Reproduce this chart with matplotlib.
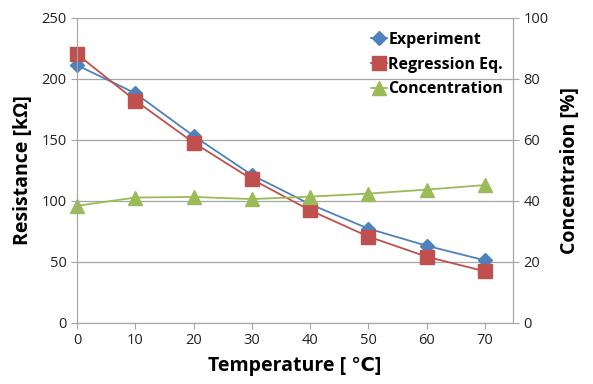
import numpy as np
import matplotlib
matplotlib.use("Agg")
import matplotlib.pyplot as plt

plt.rcParams['font.family'] = ['Open Sans', 'DejaVu Sans']

temperature = [0, 10, 20, 30, 40, 50, 60, 70]
experiment = [211, 188, 153, 121, 97, 77, 63, 51]
regression = [220, 182, 147.5, 117.5, 92, 70.5, 54, 42]
concentration = [38.3, 41, 41.2, 40.5, 41.3, 42.3, 43.6, 45.1]

blue = '#4F81BD'
red = '#C0504D'
green = '#9BBB59'
grey = '#A6A6A6'

fig = plt.figure(figsize=(5.93, 3.84), dpi=100)
ax = fig.add_axes([0.13, 0.16, 0.735, 0.794])
ax2 = ax.twinx()

l1, = ax.plot(temperature, experiment, color=blue, marker='D', markersize=7,
              linewidth=1.3, label='Experiment', clip_on=False, zorder=3)
l2, = ax.plot(temperature, regression, color=red, marker='s', markersize=10,
              linewidth=1.3, label='Regression Eq.', clip_on=False, zorder=3)
l3, = ax2.plot(temperature, concentration, color=green, marker='^', markersize=10,
               linewidth=1.3, label='Concentration', clip_on=False)

ax.set_xlim(0, 74.8)
ax.set_ylim(0, 250)
ax2.set_ylim(0, 100)
ax.set_xticks(temperature)
ax.set_yticks(np.arange(0, 251, 50))
ax2.set_yticks(np.arange(0, 101, 20))
ax.grid(axis='y', color=grey, linewidth=0.9)
ax.set_axisbelow(True)

for a in (ax, ax2):
    a.spines['top'].set_visible(False)
    for s in ('left', 'right', 'bottom'):
        a.spines[s].set_color(grey)
    a.tick_params(colors=grey, labelcolor='#222222', labelsize=10.5, length=4)

ax.set_xlabel('Temperature [ \u2103]', fontsize=14, fontweight='bold', labelpad=6)
ax.set_ylabel('Resistance [k\u03a9]', fontsize=14, fontweight='bold', labelpad=6)
ax2.set_ylabel('Concentraion [%]', fontsize=14, fontweight='bold', labelpad=8)

leg = ax.legend(handles=[l1, l2, l3], loc='upper right', bbox_to_anchor=(1.0, 0.985),
                frameon=False, prop={'weight': 'bold', 'size': 11.5},
                handlelength=1.0, handletextpad=0.1, labelspacing=0.55,
                borderaxespad=0.2)

fig.savefig('out.png', dpi=100)
